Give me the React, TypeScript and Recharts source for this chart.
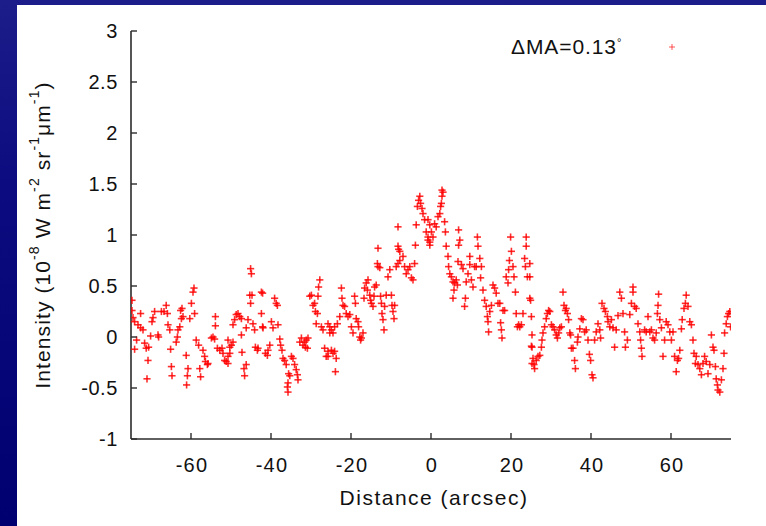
import { Legend, Scatter, ScatterChart, XAxis, YAxis } from "recharts";

// intensity profile readings [distance arcsec, intensity 1e-8 W m-2 sr-1 um-1]
const farLeft: [number, number][] = [
  [-74.75, 0.36], [-74.75, 0.26], [-74.5, 0.19], [-74.1, 0.15], [-73.25, 0.12], [-72.6, 0.09], [-72, 0.07], [-72.6, 0.23],
  [-74.1, -0.12], [-73.6, -0.03], [-71.6, -0.06], [-71.2, -0.11], [-70.75, -0.23], [-70.6, -0.1], [-71, -0.41], [-70.1, 0.01],
  [-69.5, 0.19], [-69.75, 0.15], [-69.1, 0.25], [-68.25, 0.02], [-68.1, 0], [-67.4, 0.25], [-66.75, 0.25], [-66.2, 0.31],
  [-65.9, 0.23], [-65.75, 0.12], [-65.3, 0.07], [-65.1, -0.12], [-64.9, -0.29], [-64.75, -0.38], [-63.7, -0.05], [-63.4, 0],
  [-63.25, 0.07], [-62.8, 0.1], [-62.6, 0.26], [-62.25, 0.28], [-62, 0.2], [-62.4, 0.18], [-61.2, -0.18], [-60.75, -0.31],
  [-60.9, -0.38], [-61.1, -0.47], [-60.3, 0.18], [-59.9, 0.33], [-59.5, 0.44], [-59.25, 0.48], [-59.1, 0.23], [-58.7, -0.03],
  [-58.1, -0.08], [-57.8, -0.31], [-57.6, -0.39], [-57, -0.13], [-56.6, -0.19], [-56.4, -0.24], [-55.9, -0.27], [-55.75, -0.26],
  [-54.9, -0.01], [-54.5, 0], [-54.1, -0.02], [-53.9, 0.2], [-53.9, 0.11], [-53.4, -0.11], [-52.8, -0.13], [-52.25, -0.11],
  [-52, -0.16], [-51.6, -0.23], [-51.2, -0.24], [-50.75, -0.19], [-50.3, -0.1],
];

const midLeft: [number, number][] = [
  [-50.75, -0.03], [-49.9, -0.08], [-49.5, -0.05], [-50.75, -0.26], [-50.3, -0.16], [-49.5, 0.12], [-49.1, 0.17], [-48.7, 0.22],
  [-48.25, 0.23], [-47.8, 0.2], [-47.4, 0.18], [-47.4, 0.02], [-47.25, -0.15], [-46.75, -0.31], [-46.6, -0.38], [-46.2, -0.27],
  [-46.2, 0.09], [-45.75, 0.17], [-45.3, 0.41], [-45.1, 0.33], [-45.1, 0.67], [-44.9, 0.62], [-44.75, 0.41], [-44.5, 0.13],
  [-44.1, 0.07], [-43.9, -0.1], [-43.4, -0.13], [-43.25, -0.11], [-42.4, 0.23], [-42.4, 0.44], [-42.1, 0.43], [-42.1, 0.1],
  [-42, 0.09], [-41.4, -0.16], [-40.9, -0.18], [-40.75, -0.13], [-40.3, -0.08], [-39.9, 0.15], [-39.5, 0.09], [-39.1, 0.38],
  [-38.7, 0.33], [-38.25, 0.12], [-38.4, 0.31], [-37.8, -0.02], [-37.6, -0.08], [-37.25, -0.13], [-37, -0.21], [-36.6, -0.23],
  [-36.2, -0.27], [-35.6, -0.36], [-35.3, -0.38], [-35.75, -0.45], [-35.9, -0.49], [-35.75, -0.54], [-34.9, -0.19], [-34.5, -0.21],
  [-34.1, -0.27], [-33.7, -0.32], [-33.4, -0.37], [-33.25, -0.42], [-32.8, -0.05], [-32.4, -0.01], [-32, -0.08], [-31.6, -0.05],
  [-31.2, -0.03], [-30.75, -0.01], [-30.9, -0.11], [-31.4, -0.1], [-30.3, 0.4], [-29.9, 0.41], [-29.5, 0.31], [-29.1, 0.33],
  [-28.9, 0.25], [-28.4, 0.23], [-28.1, 0.49], [-27.8, 0.56], [-28.25, 0.4], [-28.7, 0.13], [-27.4, 0.1], [-27, 0.07],
  [-26.6, -0.11], [-26.2, -0.19], [-25.75, -0.19], [-25.3, 0.04], [-24.9, 0.07],
];

const centreLeft: [number, number][] = [
  [-25.75, -0.14], [-24.9, -0.13], [-24.5, -0.16], [-24.1, -0.14], [-23.7, -0.21], [-23.9, -0.34], [-25.75, 0.13], [-25.3, 0.1],
  [-24.5, 0.04], [-24.1, 0.1], [-23.4, 0.13], [-22.8, 0.2], [-22.4, 0.48], [-22.25, 0.38], [-22, 0.31], [-21.6, 0.3],
  [-21.2, 0.23], [-20.75, 0.2], [-20.3, 0.22], [-19.9, 0.1], [-19.5, 0.04], [-19.1, 0.4], [-18.9, 0.33], [-18.7, 0.18],
  [-18.25, 0.15], [-18.1, 0.1], [-17.8, 0], [-17.6, -0.03], [-17.4, -0.01], [-17, 0.04], [-16.75, 0.38], [-16.6, 0.48],
  [-16.2, 0.53], [-15.75, 0.56], [-15.9, 0.46], [-15.3, 0.41], [-15.1, 0.36], [-14.9, 0.33], [-14.5, 0.3], [-14.25, 0.4],
  [-14.1, 0.49], [-13.7, 0.51], [-13.4, 0.72], [-13.25, 0.69], [-12.8, 0.68], [-13.25, 0.87], [-12.6, 0.4], [-12.4, 0.33],
  [-12.25, 0.23], [-12, 0.17], [-11.75, 0.07], [-11.6, 0.3], [-11.2, 0.41], [-10.75, 0.59], [-10.3, 0.66], [-9.9, 0.41],
  [-9.75, 0.31], [-9.5, 0.25], [-9.25, 0.18], [-9.1, 0.31], [-8.7, 0.69], [-8.25, 0.72], [-7.8, 0.75], [-8.25, 0.89],
  [-8.1, 0.86], [-7.8, 0.84], [-8.25, 1.08], [-7, 0.79], [-6.6, 0.69], [-6.2, 0.62], [-5.75, 0.66], [-5.3, 0.69],
  [-4.9, 0.58], [-4.5, 0.56], [-4.1, 0.72], [-3.9, 0.9], [-3.7, 1.1], [-3.4, 1.28], [-3.1, 1.34], [-2.8, 1.38],
  [-2.6, 1.31], [-2.25, 1.26], [-2, 1.21], [-1.6, 1.15], [-1.2, 1.03], [-0.75, 0.98], [-0.3, 0.93],
];

const centreRight: [number, number][] = [
  [-0.75, 1.15], [-0.3, 1.1], [0.1, 1.03], [0.5, 0.98], [0.9, 1.11], [1.3, 1.08], [1.75, 1.18], [2.2, 1.21],
  [2.4, 1.28], [2.6, 1.31], [2.75, 1.38], [2.75, 1.44], [3, 1.42], [-0.75, 0.95], [-0.3, 0.9], [3.4, 1.13],
  [3.6, 1.03], [3.8, 0.89], [4.25, 0.79], [4.4, 0.69], [4.7, 0.62], [5.1, 0.59], [5.5, 0.54], [5.75, 0.46],
  [5.5, 0.38], [5.9, 0.53], [6.3, 0.56], [6.6, 0.51], [6.9, 1.05], [7.2, 0.95], [6.9, 0.9], [6.75, 0.74],
  [7.6, 0.71], [8, 0.67], [8.4, 0.3], [8.6, 0.38], [8.8, 0.54], [9.25, 0.62], [9.7, 0.79], [9.7, 0.71],
  [10.1, 0.56], [10.5, 0.49], [10.9, 0.69], [11.3, 0.69], [11.6, 0.98], [11.75, 0.89], [12.2, 0.77], [12.4, 0.58],
  [12.6, 0.69], [13, 0.46], [13.4, 0.36], [13.8, 0.3], [14.1, 0.2], [14.25, 0.15], [14.4, 0.05], [14.7, 0.25],
  [15.1, 0.31], [15.5, 0.51], [15.9, 0.48], [16.3, 0.43], [16.75, 0.33], [17.2, 0.33], [17.4, 0.14], [17.6, 0.07],
  [17.75, -0.01], [18, 0.26], [18.4, 0.26], [18.8, 0.59], [19.25, 0.53], [19.4, 0.66], [19.6, 0.75], [20.1, 0.84],
  [19.9, 0.98], [20.5, 0.69], [20.75, 0.59], [21.1, 0.44], [21.3, 0.23], [21.6, 0.1], [21.9, 0.12], [22.2, 0.1],
  [22.6, 0.12], [23, 0.23], [23.4, 0.77], [23.6, 0.69], [23.8, 0.89], [23.8, 0.98], [24.1, 0.59], [24.7, 0.59],
  [24.7, 0.38], [25.1, 0.2], [25.1, -0.09], [25.25, -0.26],
];

const midRight: [number, number][] = [
  [24.7, 0.72], [24.9, 0.36], [25.25, 0.02], [25.25, -0.1], [25.5, -0.21], [25.75, -0.27], [25.9, -0.31], [26.3, -0.23],
  [26.75, -0.19], [27.2, -0.18], [27.6, -0.1], [27.75, -0.03], [28, 0.04], [28.4, 0.1], [28.8, 0.18], [29.1, 0.23],
  [29.4, 0.26], [29.7, 0.25], [30.1, 0.12], [30.5, 0.1], [30.9, 0.07], [31.3, 0.02], [31.6, -0.01], [31.9, 0.04],
  [32.2, 0.09], [32.6, 0.1], [33, 0.44], [33.25, 0.31], [33.6, 0.26], [33.8, 0.28], [34.1, 0.23], [34.4, 0.17],
  [34.7, 0.04], [34.9, 0.02], [35.1, -0.11], [35.5, -0.11], [35.9, -0.23], [36.1, -0.31], [36.6, -0.05], [36.75, 0],
  [37.2, 0.08], [37.6, 0.18], [38, 0.17], [38.4, 0.05], [38.8, 0.07], [39.25, -0.03], [39.6, -0.17], [39.9, -0.23],
  [40.25, -0.37], [40.5, -0.4], [40.9, -0.03], [41.3, 0.05], [41.75, 0.13], [42.2, 0.07], [42.4, -0.01], [42.75, 0.33],
  [43.25, 0.28], [43.6, 0.25], [44.1, 0.2], [44.25, 0.15], [44.7, 0.1], [45.1, 0.17], [45.5, 0.09], [45.9, -0.1],
  [46.3, 0.07], [46.75, 0.21], [47.2, 0.44], [47.6, 0.38], [48, 0.23], [48.4, 0.05], [48.6, -0.1], [49.1, -0.03],
];

const farRight: [number, number][] = [
  [49.7, 0.22], [50.1, 0.33], [50.5, 0.49], [50.5, 0.44], [50.9, 0.3], [51.3, 0.28], [51.75, 0.13], [52.2, 0.05],
  [52.4, -0.03], [52.6, -0.11], [52.75, -0.19], [53.4, 0.07], [53.8, 0.05], [54.25, 0.2], [54.7, 0.05], [55.1, 0.07],
  [55.5, -0.01], [55.9, -0.03], [56.3, 0.04], [56.6, 0.23], [56.75, 0.31], [56.9, 0.42], [57.2, 0.17], [57.6, 0.09],
  [58, -0.19], [58.4, -0.03], [58.8, 0.15], [59.25, 0.12], [59.7, 0.05], [60.1, -0.03], [60.5, 0.05], [60.9, -0.19],
  [61.3, -0.34], [61.6, -0.23], [61.9, -0.21], [62.2, -0.13], [62.6, 0.08], [62.8, 0.17], [63.25, 0.28], [63.6, 0.33],
  [63.8, 0.41], [64.25, 0.3], [64.7, 0.15], [65.1, 0.12], [65.5, -0.03], [65.75, -0.16], [66.1, -0.26], [66.3, -0.19],
  [66.75, -0.27], [67.2, -0.31], [67.6, -0.37], [68, -0.26], [68.4, -0.19], [68.8, -0.24], [69.25, -0.36], [69.7, -0.27],
  [70.1, 0.02], [70.5, -0.1], [70.75, -0.13], [71.1, -0.29], [71.3, -0.41], [71.6, -0.47], [71.75, -0.52], [72.2, -0.54],
  [72.6, -0.42], [73, -0.31], [73.25, -0.16], [73.4, 0.04], [73.8, 0.13], [74.1, 0.2], [74.4, 0.23], [74.7, 0.25],
  [74.9, 0.1],
];

const xTicks = [-60, -40, -20, 0, 20, 40, 60];
const yTicks = [-1, -0.5, 0, 0.5, 1, 1.5, 2, 2.5, 3];
const seriesName = "ΔMA=0.13";

const points = [...farLeft, ...midLeft, ...centreLeft, ...centreRight, ...midRight, ...farRight].map(
  ([distance, intensity]) => ({ distance, intensity })
);

const FONT = "'Liberation Sans', Arial, Helvetica, sans-serif";
const AXIS = "#2b2b2b";
const RED = "#ff0000";
const TICK_LEN = 6;

function Cross(props: any) {
  const { cx, cy } = props;
  if (cx == null || cy == null) return null;
  const r = 3.6;
  return (
    <g stroke={RED} strokeOpacity={0.82} strokeWidth={1.6}>
      <line x1={cx - r} y1={cy} x2={cx + r} y2={cy} />
      <line x1={cx} y1={cy - r} x2={cx} y2={cy + r} />
    </g>
  );
}

function BottomTick({ x, y, payload }: any) {
  return (
    <g>
      <line x1={x} y1={y} x2={x} y2={y - TICK_LEN} stroke={AXIS} strokeWidth={1.4} />
      <text x={x + 1} y={y + 33} textAnchor="middle" fontSize={20} letterSpacing={1.2} fill="#111" fontFamily={FONT}>
        {payload.value}
      </text>
    </g>
  );
}

function TopTick({ x, y }: any) {
  return <line x1={x} y1={y} x2={x} y2={y + TICK_LEN} stroke={AXIS} strokeWidth={1.4} />;
}

function LeftTick({ x, y, payload }: any) {
  return (
    <g>
      <line x1={x} y1={y} x2={x + TICK_LEN} y2={y} stroke={AXIS} strokeWidth={1.4} />
      <text x={x - 13} y={y + 7} textAnchor="end" fontSize={20} letterSpacing={0.6} fill="#111" fontFamily={FONT}>
        {payload.value}
      </text>
    </g>
  );
}

function RightTick({ x, y }: any) {
  return <line x1={x} y1={y} x2={x - TICK_LEN} y2={y} stroke={AXIS} strokeWidth={1.4} />;
}

function XTitle({ viewBox }: any) {
  const cx = viewBox.x + viewBox.width / 2;
  return (
    <text x={cx + 3} y={viewBox.y + 66} textAnchor="middle" fontSize={21} letterSpacing={1.5} fill="#111" fontFamily={FONT}>
      Distance (arcsec)
    </text>
  );
}

function YTitle({ viewBox }: any) {
  const cy = viewBox.y + viewBox.height / 2;
  const cx = 25;
  return (
    <text
      x={cx}
      y={cy}
      transform={`rotate(-90, ${cx}, ${cy})`}
      textAnchor="middle"
      dominantBaseline="central"
      fontSize={21}
      letterSpacing={1.1}
      fill="#111"
      fontFamily={FONT}
    >
      <tspan>Intensity (10</tspan>
      <tspan dy={-8} fontSize={14}>-8</tspan>
      <tspan dy={8}> W m</tspan>
      <tspan dy={-8} fontSize={14}>-2</tspan>
      <tspan dy={8}> sr</tspan>
      <tspan dy={-8} fontSize={14}>-1</tspan>
      <tspan dy={8}>μm</tspan>
      <tspan dy={-8} fontSize={14}>-1</tspan>
      <tspan dy={8}>)</tspan>
    </text>
  );
}

function LegendBox() {
  return (
    <div style={{ display: "flex", alignItems: "center", fontFamily: FONT, fontSize: 21, letterSpacing: 0.9, color: "#111" }}>
      <span>
        {seriesName}
        <sup style={{ fontSize: 11, verticalAlign: "8px" }}>°</sup>
      </span>
      <svg width={12} height={12} style={{ marginLeft: 44 }}>
        <line x1={3} y1={6} x2={9} y2={6} stroke={RED} strokeOpacity={0.55} strokeWidth={1.2} />
        <line x1={6} y1={3} x2={6} y2={9} stroke={RED} strokeOpacity={0.55} strokeWidth={1.2} />
      </svg>
    </div>
  );
}

export default function App() {
  return (
    <div
      style={{
        position: "absolute",
        left: 0,
        top: 0,
        width: 766,
        height: 526,
        background: "linear-gradient(180deg, #1c1c8a 0%, #0c0c80 35%, #000070 100%)",
        overflow: "hidden",
      }}
    >
      <div style={{ position: "absolute", left: 17, top: 5, width: 749, height: 521, background: "#ffffff" }}>
        <ScatterChart width={749} height={521} margin={{ top: 26, right: 35, bottom: 0, left: 0 }}>
          <XAxis
            xAxisId="bottom"
            type="number"
            dataKey="distance"
            domain={[-75, 75]}
            ticks={xTicks}
            height={87}
            tickSize={0}
            tickMargin={0}
            tickLine={false}
            axisLine={{ stroke: AXIS, strokeWidth: 1.6 }}
            tick={<BottomTick />}
            label={{ content: <XTitle /> }}
            allowDataOverflow
          />
          <XAxis
            xAxisId="top"
            orientation="top"
            type="number"
            dataKey="distance"
            domain={[-75, 75]}
            ticks={xTicks}
            height={0}
            tickSize={0}
            tickMargin={0}
            tickLine={false}
            axisLine={{ stroke: AXIS, strokeWidth: 1.6 }}
            tick={<TopTick />}
            allowDataOverflow
          />
          <YAxis
            yAxisId="left"
            type="number"
            dataKey="intensity"
            domain={[-1, 3]}
            ticks={yTicks}
            width={114}
            tickSize={0}
            tickMargin={0}
            tickLine={false}
            axisLine={{ stroke: AXIS, strokeWidth: 1.6 }}
            tick={<LeftTick />}
            label={{ content: <YTitle /> }}
            allowDataOverflow
          />
          <YAxis
            yAxisId="right"
            orientation="right"
            type="number"
            dataKey="intensity"
            domain={[-1, 3]}
            ticks={yTicks}
            width={0}
            tickSize={0}
            tickMargin={0}
            tickLine={false}
            axisLine={{ stroke: AXIS, strokeWidth: 1.6 }}
            tick={<RightTick />}
            allowDataOverflow
          />
          <Legend
            layout="horizontal"
            verticalAlign="middle"
            align="center"
            wrapperStyle={{ top: 30, left: 494, width: "auto" }}
            content={<LegendBox />}
          />
          <Scatter
            name={seriesName}
            data={points}
            xAxisId="bottom"
            yAxisId="left"
            shape={<Cross />}
            isAnimationActive={false}
          />
        </ScatterChart>
      </div>
    </div>
  );
}
